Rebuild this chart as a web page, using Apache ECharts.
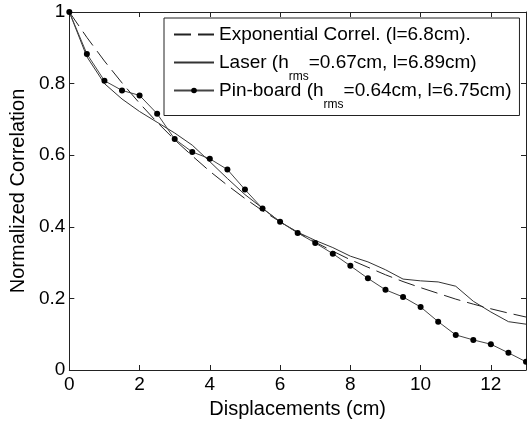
<!DOCTYPE html>
<html>
<head>
<meta charset="utf-8">
<script src="https://cdn.jsdelivr.net/npm/echarts@6/dist/echarts.min.js"></script>
<style>html,body{margin:0;padding:0;background:#fff;}#c{width:527px;height:424px;}</style>
</head>
<body>
<div id="c"></div>
<script>
var displacements = [0, 0.5, 1, 1.5, 2, 2.5, 3, 3.5, 4, 4.5, 5, 5.5, 6, 6.5, 7, 7.5, 8, 8.5, 9, 9.5, 10, 10.5, 11, 11.5, 12, 12.5, 13];
var exponentialCorr = [1, 0.929, 0.863, 0.802, 0.745, 0.692, 0.643, 0.598, 0.555, 0.516, 0.479, 0.445, 0.414, 0.384, 0.357, 0.332, 0.308, 0.287, 0.266, 0.247, 0.230, 0.214, 0.198, 0.184, 0.171, 0.159, 0.148];
var laserCorr = [1, 0.875, 0.800, 0.757, 0.722, 0.692, 0.662, 0.628, 0.582, 0.535, 0.490, 0.452, 0.414, 0.385, 0.362, 0.342, 0.318, 0.302, 0.280, 0.254, 0.249, 0.246, 0.234, 0.192, 0.162, 0.135, 0.128];
var pinboardCorr = [1, 0.883, 0.808, 0.781, 0.767, 0.716, 0.645, 0.609, 0.590, 0.560, 0.504, 0.451, 0.414, 0.383, 0.355, 0.325, 0.291, 0.256, 0.224, 0.204, 0.176, 0.135, 0.098, 0.084, 0.072, 0.048, 0.023];
var seriesNames = ['Exponential', 'Laser', 'Pin-board'];
var legendLabels = {
  'Exponential': '{t|Exponential Correl. (l=6.8cm).}{s| }',
  'Laser': '{t|Laser (h}{s|rms}{t|=0.67cm, l=6.89cm)}',
  'Pin-board': '{t|Pin-board (h}{s|rms}{t|=0.64cm, l=6.75cm)}'
};
var xTicks = {min: 0, max: 13, interval: 2};
var yTicks = {min: 0, max: 1, interval: 0.2};

function pairs(xs, ys) { return xs.map(function (x, i) { return [x, ys[i]]; }); }

var font = 'Liberation Sans, Arial, sans-serif';
var chart = echarts.init(document.getElementById('c'), null, {renderer: 'canvas'});
var axisLineStyle = {color: '#222', width: 1};
chart.setOption({
  animation: false,
  backgroundColor: '#fff',
  grid: {left: 67, top: 12, right: 1, bottom: 53, containLabel: false},
  xAxis: [{
    type: 'value', min: xTicks.min, max: xTicks.max, interval: xTicks.interval,
    name: 'Displacements (cm)', nameLocation: 'middle', nameGap: 29,
    nameTextStyle: {fontFamily: font, fontSize: 20, color: '#000'},
    axisLine: {show: true, lineStyle: axisLineStyle},
    axisTick: {show: true, inside: true, length: 5, lineStyle: axisLineStyle},
    axisLabel: {show: true, margin: 5, fontFamily: font, fontSize: 19, color: '#000', showMaxLabel: false},
    splitLine: {show: false}
  }, {
    type: 'value', position: 'top', min: xTicks.min, max: xTicks.max, interval: xTicks.interval,
    axisLine: {show: true, onZero: false, lineStyle: axisLineStyle},
    axisTick: {show: true, inside: true, length: 5, lineStyle: axisLineStyle},
    axisLabel: {show: false}, splitLine: {show: false}
  }],
  yAxis: [{
    type: 'value', min: yTicks.min, max: yTicks.max, interval: yTicks.interval,
    name: 'Normalized Correlation', nameLocation: 'middle', nameGap: 41,
    nameTextStyle: {fontFamily: font, fontSize: 20, color: '#000'},
    axisLine: {show: true, lineStyle: axisLineStyle},
    axisTick: {show: true, inside: true, length: 5, lineStyle: axisLineStyle},
    axisLabel: {show: true, margin: 4, fontFamily: font, fontSize: 19, color: '#000'},
    splitLine: {show: false}
  }, {
    type: 'value', position: 'right', min: yTicks.min, max: yTicks.max, interval: yTicks.interval,
    axisLine: {show: true, onZero: false, lineStyle: axisLineStyle},
    axisTick: {show: true, inside: true, length: 5, lineStyle: axisLineStyle},
    axisLabel: {show: false}, splitLine: {show: false}
  }],
  legend: {
    orient: 'vertical', left: 164, top: 18,
    data: [
      {name: seriesNames[0], itemStyle: {opacity: 0}},
      {name: seriesNames[1], itemStyle: {opacity: 0}},
      {name: seriesNames[2]}
    ],
    backgroundColor: '#fff', borderColor: '#222', borderWidth: 1,
    padding: [7, 8, 5, 9],
    itemWidth: 40, itemHeight: 7, itemGap: -1.5,
    formatter: function (name) { return legendLabels[name]; },
    textStyle: {
      fontFamily: font, color: '#000',
      rich: {
        t: {fontFamily: font, fontSize: 19, color: '#000', lineHeight: 24},
        s: {fontFamily: font, fontSize: 12, color: '#000', lineHeight: 12, padding: [14, 0, -14, 0]}
      }
    }
  },
  series: [{
    name: seriesNames[0], type: 'line', data: pairs(displacements, exponentialCorr),
    symbol: 'none', smooth: false,
    lineStyle: {color: '#222', width: 1, type: [17, 7]}, itemStyle: {color: '#222'}, z: 2
  }, {
    name: seriesNames[1], type: 'line', data: pairs(displacements, laserCorr),
    symbol: 'none',
    lineStyle: {color: '#333', width: 1}, itemStyle: {color: '#333'}, z: 3
  }, {
    name: seriesNames[2], type: 'line', data: pairs(displacements, pinboardCorr),
    symbol: 'circle', symbolSize: 6, showAllSymbol: true,
    lineStyle: {color: '#444', width: 1}, itemStyle: {color: '#000'}, z: 4
  }]
});
</script>
</body>
</html>
